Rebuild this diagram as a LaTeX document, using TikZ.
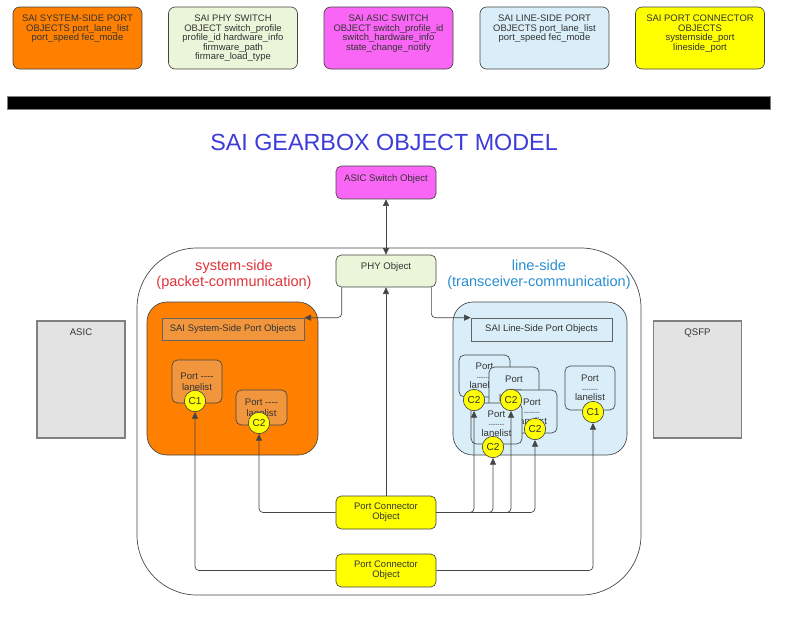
\documentclass[tikz,border=0pt]{standalone}
\usepackage{fontspec}
\setmainfont{Liberation Sans}
\usetikzlibrary{calc,arrows.meta}

\begin{document}
\begin{tikzpicture}[x=0.75pt,y=0.75pt,yscale=-1,xscale=1,
	>={Triangle[length=5pt,width=4.5pt]},
	objbox/.style={draw={rgb, 255:red, 68; green, 68; blue, 68 }, line width=0.5pt, rounded corners=4pt, inner sep=0pt, align=center, text={rgb, 255:red, 51; green, 51; blue, 51 }, font=\fontsize{7.2}{7.6}\selectfont},
	legbox/.style={objbox, rounded corners=5pt, minimum width=96.75pt, minimum height=46.5pt},
	legtext/.style={anchor=north, inner sep=0pt, align=center, text={rgb, 255:red, 51; green, 51; blue, 51 }, font=\fontsize{7.1}{7.2}\selectfont},
	groupbox/.style={draw={rgb, 255:red, 68; green, 68; blue, 68 }, line width=0.5pt, rounded corners=15pt},
	hwbox/.style={draw={rgb, 255:red, 128; green, 128; blue, 128 }, line width=0.9pt, fill={rgb, 255:red, 227; green, 227; blue, 227 }, minimum width=66pt, inner sep=0pt, text height=10.9pt, text depth=76.9pt, text={rgb, 255:red, 51; green, 51; blue, 51 }, font=\fontsize{7.2}{7.6}\selectfont},
	listbox/.style={draw={rgb, 255:red, 100; green, 100; blue, 100 }, line width=0.5pt, inner sep=0pt, text={rgb, 255:red, 51; green, 51; blue, 51 }, font=\fontsize{7.1}{7.6}\selectfont},
	sysport/.style={objbox, fill={rgb, 255:red, 242; green, 150; blue, 62 }, font=\fontsize{7.2}{8.2}\selectfont},
	lineport/.style={objbox, fill={rgb, 255:red, 217; green, 238; blue, 249 }, font=\fontsize{7.2}{7.2}\selectfont},
	cbadge/.style={circle, draw={rgb, 255:red, 68; green, 68; blue, 68 }, line width=0.5pt, fill={rgb, 255:red, 255; green, 255; blue, 0 }, minimum size=16pt, inner sep=0pt, text={rgb, 255:red, 51; green, 51; blue, 51 }, font=\fontsize{7.6}{8}\selectfont},
	sidelabel/.style={align=center, inner sep=0pt, font=\fontsize{10.9}{12}\selectfont},
	wire/.style={draw={rgb, 255:red, 68; green, 68; blue, 68 }, line width=0.5pt, rounded corners=3pt},
]
\useasboundingbox (0,0) rectangle (800,625);
\fill [white] (0,0) rectangle (800,625);

%Legend boxes
\draw (77.5,38) node [legbox, fill={rgb, 255:red, 255; green, 128; blue, 0 }] (legsys) {};
\draw ($(legsys.north)+(0,8)$) node [legtext] (legsystxt) {SAI SYSTEM-SIDE PORT\\OBJECTS port\_lane\_list\\port\_speed fec\_mode};
\draw (233,38) node [legbox, fill={rgb, 255:red, 234; green, 245; blue, 218 }] (legphy) {};
\draw ($(legphy.north)+(0,8)$) node [legtext] (legphytxt) {SAI PHY SWITCH\\OBJECT switch\_profile\\profile\_id hardware\_info\\firmware\_path\\firmare\_load\_type};
\draw (388.5,38) node [legbox, fill={rgb, 255:red, 249; green, 102; blue, 245 }] (legasic) {};
\draw ($(legasic.north)+(0,8)$) node [legtext] (legasictxt) {SAI ASIC SWITCH\\OBJECT switch\_profile\_id\\switch\_hardware\_info\\state\_change\_notify};
\draw (544.5,38) node [legbox, fill={rgb, 255:red, 217; green, 238; blue, 249 }] (legline) {};
\draw ($(legline.north)+(0,8)$) node [legtext] (leglinetxt) {SAI LINE-SIDE PORT\\OBJECTS port\_lane\_list\\port\_speed fec\_mode};
\draw (700,38) node [legbox, fill={rgb, 255:red, 255; green, 255; blue, 0 }] (legconn) {};
\draw ($(legconn.north)+(0,8)$) node [legtext] (legconntxt) {SAI PORT CONNECTOR\\OBJECTS\\systemside\_port\\lineside\_port};

%Shape: Rectangle (bar)
\draw [draw={rgb, 255:red, 128; green, 128; blue, 128 }, fill=black] (7,96) rectangle (770,109);

% Text Node
\draw (384,142) node [inner sep=0pt, text={rgb, 255:red, 60; green, 60; blue, 218 }, font=\fontsize{17.5}{20}\selectfont] (gbtitle) {SAI GEARBOX OBJECT MODEL};

%Shape: Rounded Rectangle (gearbox)
\draw [groupbox, rounded corners=45pt] (137,248) rectangle (641,595);
\draw [groupbox, fill={rgb, 255:red, 255; green, 128; blue, 0 }] (147,302) rectangle (318,455);
\draw [groupbox, fill={rgb, 255:red, 217; green, 238; blue, 249 }] (453,302) rectangle (627,455);

%Objects
\draw (386,182.5) node [objbox, fill={rgb, 255:red, 249; green, 102; blue, 245 }, minimum width=75pt, text height=11.6pt, text depth=13.1pt] (asicsw) {ASIC Switch Object};
\draw (386,271) node [objbox, fill={rgb, 255:red, 234; green, 245; blue, 218 }, minimum width=75pt, text height=10.9pt, text depth=13.1pt] (phy) {PHY Object};

% Text Node
\draw (234,275) node [sidelabel, text={rgb, 255:red, 224; green, 52; blue, 58 }] (syslabel) {system-side\\(packet-communication)};
% Text Node
\draw (539,275) node [sidelabel, text={rgb, 255:red, 42; green, 143; blue, 208 }] (linelabel) {line-side\\(transceiver-communication)};

%Hardware
\draw (81,379.5) node [hwbox] (asichw) {ASIC};
\draw (697.5,379.5) node [hwbox] (qsfp) {QSFP};

%Port object lists
\draw (233,329) node [listbox, fill={rgb, 255:red, 242; green, 150; blue, 62 }, minimum width=106.5pt, minimum height=16.5pt] (sysobj) {SAI System-Side Port Objects};
\draw (541.5,329.5) node [listbox, fill={rgb, 255:red, 217; green, 238; blue, 249 }, minimum width=105.75pt, minimum height=17.25pt] (lineobj) {SAI Line-Side Port Objects};

%System-side ports
\draw (197,381.5) node [sysport, minimum width=37.5pt, minimum height=32.25pt] (sport1) {Port -{}-{}-{}-\\lanelist};
\draw (261.5,407.5) node [sysport, minimum width=38.25pt, minimum height=26.25pt] (sport2) {Port -{}-{}-{}-\\lanelist};

%Line-side ports
\draw (484.5,376) node [lineport, minimum width=38.25pt, minimum height=31.5pt] (lportA) {Port\\{\fontsize{5}{5}\selectfont -{}-{}-{}-{}-{}-{}-}\\lanelist};
\draw (514,388.5) node [lineport, minimum width=37.5pt, minimum height=32.25pt] (lportB) {Port\\{\fontsize{5}{5}\selectfont -{}-{}-{}-{}-{}-{}-}\\lanelist};
\draw (532,411.5) node [lineport, minimum width=37.5pt, minimum height=32.25pt] (lportC) {Port\\{\fontsize{5}{5}\selectfont -{}-{}-{}-{}-{}-{}-}\\lanelist};
\draw (496.5,423.5) node [lineport, minimum width=38.25pt, minimum height=30.75pt] (lportD) {Port\\{\fontsize{5}{5}\selectfont -{}-{}-{}-{}-{}-{}-}\\lanelist};
\draw (590,388) node [lineport, minimum width=37.5pt, minimum height=33pt] (lport1) {Port\\{\fontsize{5}{5}\selectfont -{}-{}-{}-{}-{}-{}-}\\lanelist};

%Connector badges
\draw (195,401) node [cbadge] (sc1) {C1};
\draw (259,423) node [cbadge] (sc2) {C2};
\draw (474,400) node [cbadge] (lc2a) {C2};
\draw (511,400) node [cbadge] (lc2b) {C2};
\draw (535,429) node [cbadge] (lc2c) {C2};
\draw (493,447) node [cbadge] (lc2d) {C2};
\draw (593,412) node [cbadge] (lc1) {C1};

%Port connector objects
\draw (386,512.5) node [objbox, fill={rgb, 255:red, 255; green, 255; blue, 0 }, minimum width=75pt, minimum height=24.75pt, font=\fontsize{7.1}{7.5}\selectfont] (pcup) {Port Connector\\Object};
\draw (386,570.5) node [objbox, fill={rgb, 255:red, 255; green, 255; blue, 0 }, minimum width=75pt, minimum height=24.75pt, font=\fontsize{7.1}{7.5}\selectfont] (pclow) {Port Connector\\Object};

%Straight Lines
\draw [wire, <->] (asicsw) -- (phy);
\draw [wire, ->] ($(phy.south west)+(6,0)$) |- (sysobj.north east);
\draw [wire, ->] ($(phy.south east)+(-5,0)$) |- (lineobj.north west);
\draw [wire, ->] (pcup) -- (phy);
\draw [wire, ->] (pcup.west) -| (sc2.south);
\draw [wire, ->] (pcup.east) -| (lc2a.south);
\draw [wire, ->] (pcup.east) -| (lc2d.south);
\draw [wire, ->] (pcup.east) -| (lc2b.south);
\draw [wire, ->] (pcup.east) -| (lc2c.south);
\draw [wire, ->] (pclow.west) -| (sc1.south);
\draw [wire, ->] (pclow.east) -| (lc1.south);

\end{tikzpicture}
\end{document}
